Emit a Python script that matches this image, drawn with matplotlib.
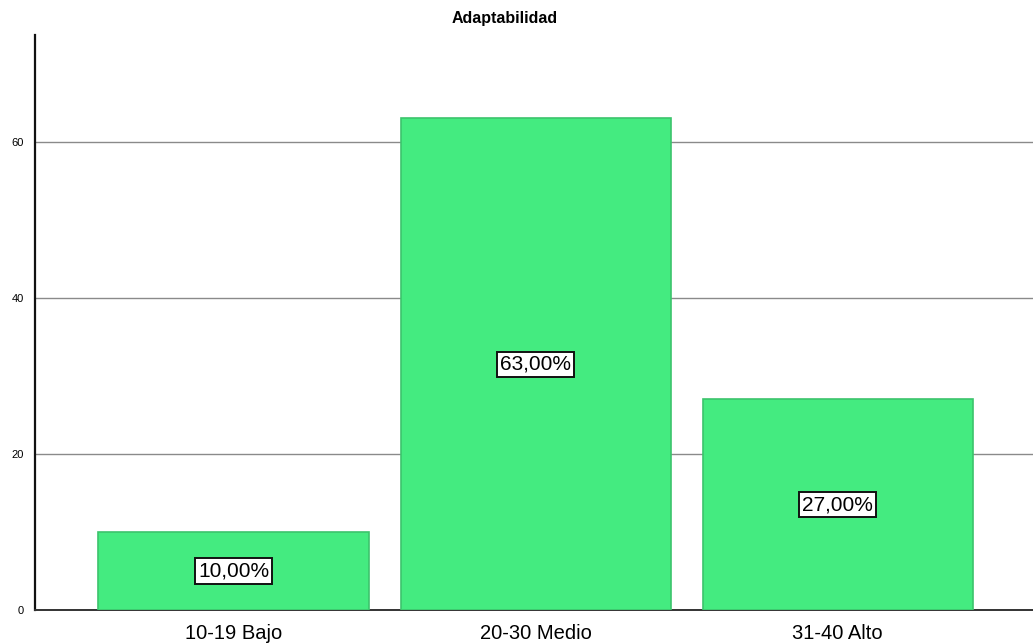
import matplotlib
matplotlib.use("Agg")
from matplotlib import pyplot as plt

categories = ["10-19 Bajo", "20-30 Medio", "31-40 Alto"]
values = [10, 63, 27]
labels = ["10,00%", "63,00%", "27,00%"]
yticks = [0, 20, 40, 60]

plt.rcParams['font.family'] = ['Liberation Sans', 'DejaVu Sans']

fig = plt.figure(figsize=(10.33, 6.44), dpi=100)
ax = fig.add_axes([35/1033, 34/644, 998/1033, 575/644])

xs = list(range(len(categories)))
bars = ax.bar(xs, values, width=0.894, color='#44EB80', edgecolor='#3CC46C',
              linewidth=1.2, zorder=3)

for rect, lab in zip(bars, labels):
    h = rect.get_height()
    ax.text(rect.get_x() + rect.get_width()/2., h/2., lab,
            ha='center', va='center', fontsize=15, zorder=4,
            bbox=dict(boxstyle='square,pad=0.15', facecolor='white',
                      edgecolor='#111111', linewidth=1.4))

ax.set_xlim(-0.657, 2.646)
ax.set_ylim(0, 73.7)
ax.set_yticks(yticks)
ax.set_yticklabels([str(t) for t in yticks], fontsize=8)
ax.set_xticks(xs)
ax.set_xticklabels(categories, fontsize=14.5)
ax.tick_params(axis='y', length=0, pad=8)
ax.tick_params(axis='x', length=0, pad=10)
ax.grid(axis='y', color='#8a8a8a', linewidth=1.0, zorder=0)
ax.set_axisbelow(True)

for s in ['top', 'right']:
    ax.spines[s].set_visible(False)
ax.spines['left'].set_color('#111111')
ax.spines['left'].set_linewidth(1.6)
ax.spines['bottom'].set_color('#333333')
ax.spines['bottom'].set_linewidth(1.4)

fig.text(505/1033, 1 - 18/644, "Adaptabilidad", ha='center', va='center',
         fontsize=11.5, fontweight='bold')

plt.savefig('out.png', dpi=100)
